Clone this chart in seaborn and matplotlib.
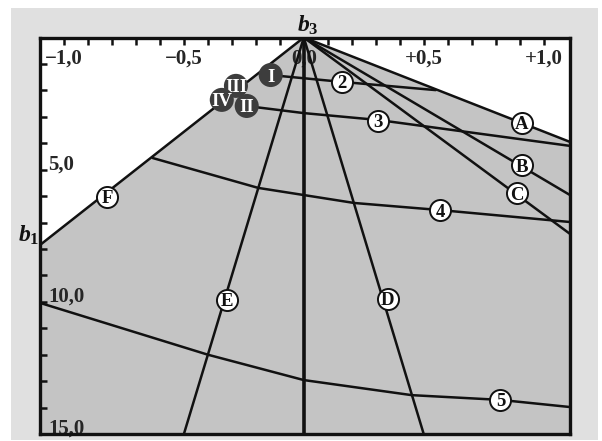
import matplotlib

matplotlib.use("Agg")
import matplotlib.pyplot as plt  # noqa: E402
import numpy as np  # noqa: E402
import seaborn as sns  # noqa: E402
from matplotlib.patches import Rectangle  # noqa: E402

# frontera izquierda (F) y rayos desde el vértice b3
LEFT_X = [0.0, -1.10]
LEFT_Y = [0.0, 7.85]
RAY_NAMES = ["A", "B", "C", "D", "E"]
RAY_END_X = [1.11, 1.11, 1.11, 0.50, -0.50]
RAY_END_Y = [3.95, 5.96, 7.43, 15.0, 15.0]

# isolíneas 2..5 (quiebres donde cruzan los rayos)
ISO2_X = [-0.14, 0.16, 0.55]
ISO2_Y = [1.42, 1.68, 1.99]
ISO3_X = [-0.24, 0.0, 0.31, 1.11]
ISO3_Y = [2.59, 2.86, 3.12, 4.10]
ISO4_X = [-0.63, -0.19, 0.0, 0.21, 0.57, 1.11]
ISO4_Y = [4.56, 5.69, 5.96, 6.26, 6.53, 6.98]
ISO5_X = [-1.10, -0.40, 0.0, 0.45, 0.82, 1.11]
ISO5_Y = [10.04, 12.0, 12.96, 13.53, 13.71, 13.98]

# rótulos en círculos
WHITE_LABELS = ["2", "3", "4", "5", "A", "B", "C", "D", "E", "F"]
WHITE_X = [0.16, 0.31, 0.57, 0.82, 0.91, 0.91, 0.89, 0.35, -0.32, -0.82]
WHITE_Y = [1.68, 3.14, 6.53, 13.71, 3.22, 4.84, 5.90, 9.89, 9.93, 6.03]
DARK_LABELS = ["III", "IV", "II", "I"]
DARK_X = [-0.283, -0.342, -0.238, -0.138]
DARK_Y = [1.83, 2.36, 2.59, 1.42]

XMAJ = [-1.0, -0.5, 0.0, 0.5, 1.0]
XMAJ_LBL = ["\u22121,0", "\u22120,5", "0,0", "+0,5", "+1,0"]
YMAJ = [5.0, 10.0, 15.0]
YMAJ_LBL = ["5,0", "10,0", "15,0"]
XLIM = (-1.10, 1.11)
YLIM = (15.0, 0.0)

INK = "#111111"
FILL = "#c4c4c4"
PANEL = "#e0e0e0"
DARK = "#3d3d3d"

sns.set_theme(style="white")
plt.rcParams["font.family"] = ["Liberation Serif", "DejaVu Serif"]
plt.rcParams["font.weight"] = "bold"
plt.rcParams["mathtext.fontset"] = "custom"
plt.rcParams["mathtext.it"] = "Liberation Serif:italic:bold"
plt.rcParams["mathtext.rm"] = "Liberation Serif:bold"

fig = plt.figure(figsize=(6.02, 4.41), dpi=100, facecolor="white")
fig.patches.append(
    Rectangle((11 / 602, 1 / 441), 587 / 602, 432 / 441, transform=fig.transFigure, facecolor=PANEL, edgecolor="none", zorder=-1)
)
ax = fig.add_axes([40 / 602, 7 / 441, 530 / 602, 396.5 / 441])
ax.set_facecolor("white")
ax.set_xlim(*XLIM)
ax.set_ylim(*YLIM)
ax.set_axisbelow(True)

# zona sombreada entre la frontera F y el rayo A
poly_x = [0.0, LEFT_X[1], XLIM[0], XLIM[1], RAY_END_X[0]]
poly_y = [0.0, LEFT_Y[1], YLIM[0], YLIM[0], RAY_END_Y[0]]
ax.fill(poly_x, poly_y, color=FILL, lw=0, zorder=0.2)

kw = dict(color=INK, sort=False, estimator=None, legend=False, ax=ax)
sns.lineplot(x=LEFT_X, y=LEFT_Y, lw=1.8, **kw)
for ex, ey in zip(RAY_END_X, RAY_END_Y):
    sns.lineplot(x=[0.0, ex], y=[0.0, ey], lw=1.8, **kw)
sns.lineplot(x=[0.0, 0.0], y=[0.0, YLIM[0]], lw=2.6, **kw)
for xs, ys in ((ISO2_X, ISO2_Y), (ISO3_X, ISO3_Y), (ISO4_X, ISO4_Y), (ISO5_X, ISO5_Y)):
    sns.lineplot(x=xs, y=ys, lw=1.8, **kw)

sns.scatterplot(x=WHITE_X, y=WHITE_Y, s=230, color="white", edgecolor=INK, linewidth=1.4, zorder=4, ax=ax)
for lbl, x, y in zip(WHITE_LABELS, WHITE_X, WHITE_Y):
    ax.text(x, y, lbl, ha="center", va="center_baseline", fontsize=13.5, color=INK, zorder=5)
for i, (lbl, x, y) in enumerate(zip(DARK_LABELS, DARK_X, DARK_Y)):
    ax.scatter([x], [y], s=300, color=DARK, edgecolor="none", zorder=6 + 2 * i)
    ax.text(x, y, lbl, ha="center", va="center_baseline", fontsize=13.5, color="white", zorder=7 + 2 * i)

# ejes: ticks hacia dentro, rótulos dentro del marco
ax.xaxis.set_ticks_position("top")
ax.set_xticks(XMAJ, XMAJ_LBL)
ax.set_xticks(np.arange(-1.0, 1.05, 0.1), minor=True)
ax.set_yticks(YMAJ, YMAJ_LBL)
ax.set_yticks(np.arange(1, 15, 1), minor=True)
ax.tick_params(axis="x", which="both", direction="in", length=5, width=1.8, color=INK,
               top=True, bottom=False, labeltop=True, labelbottom=False, pad=-15, labelsize=15)
ax.tick_params(axis="y", which="both", direction="in", length=5, width=1.8, color=INK,
               left=True, right=False, pad=-6, labelsize=15)
for t in ax.get_xticklabels():
    t.set_va("center")
for t in ax.get_yticklabels():
    t.set_ha("left")
    t.set_va("baseline")
for sp in ax.spines.values():
    sp.set_visible(True)
    sp.set_color(INK)
    sp.set_linewidth(2.4)
ax.set_xlabel("")
ax.set_ylabel("")

ax.text(0.015, -0.45, "$b_3$", ha="center", va="center", fontsize=17, color=INK, clip_on=False)
ax.text(-1.146, 7.5, "$b_1$", ha="center", va="center", fontsize=17, color=INK, clip_on=False)

fig.savefig("out.png", dpi=100)
